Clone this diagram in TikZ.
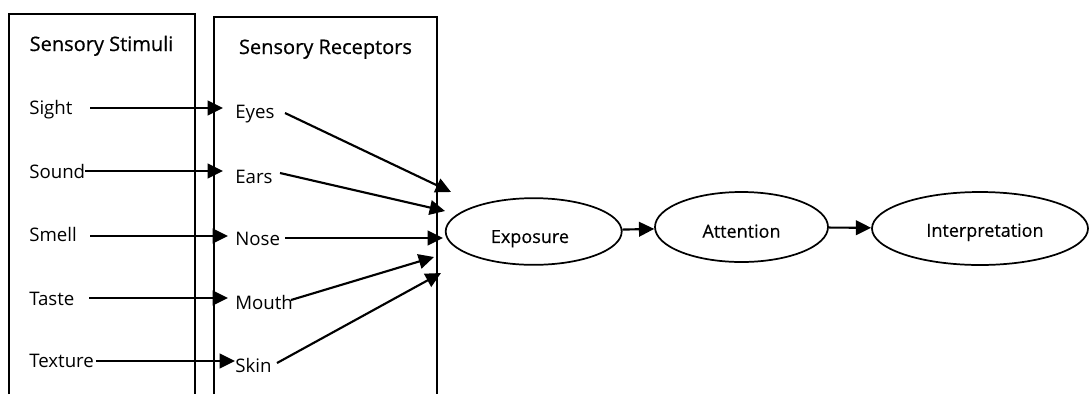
\documentclass[tikz,border=0pt]{standalone}
\usepackage{fontspec}
\setmainfont{Open Sans}
\usetikzlibrary{arrows.meta,shapes.geometric}
\begin{document}
\begin{tikzpicture}[x=0.75pt,y=-0.75pt,
  frame/.style={line width=1.1pt},
  item/.style={anchor=base west, inner sep=0pt, font=\fontsize{14}{16}\selectfont},
  head/.style={anchor=base, inner sep=0pt, font=\fontsize{15}{17}\selectfont\addfontfeature{FakeBold=0.6}},
  arr/.style={line width=1.6pt, -{Triangle[length=11.5pt,width=11pt]}},
  oval/.style={ellipse, draw, line width=1.3pt, inner sep=0pt,
    font=\fontsize{13.5}{16}\selectfont\addfontfeature{FakeBold=0.4}}]
\useasboundingbox (0,0) rectangle (1089,394);
% containers
\draw[frame] (9,394) -- (9,14) -- (195,14) -- (195,394);
\draw[frame] (214,394) -- (214,17) -- (437,17) -- (437,394);
\node[head] (hstim) at (101.5,51) {Sensory Stimuli};
\node[head] (hrec) at (325.5,54) {Sensory Receptors};
% stimuli
\node[item] (sight) at (29,114) {Sight};
\node[item] (sound) at (29,178) {Sound};
\node[item] (smell) at (29,241) {Smell};
\node[item] (taste) at (29,305) {Taste};
\node[item] (texture) at (29,367) {Texture};
% receptors
\node[item] (eyes) at (235,118) {Eyes};
\node[item] (ears) at (235,183) {Ears};
\node[item] (nose) at (235,245) {Nose};
\node[item] (mouth) at (235,309) {Mouth};
\node[item] (skin) at (235,372) {Skin};
% ovals
\node[oval, minimum width=132pt, minimum height=50pt] (exp) at (533.7,231.5) {\raisebox{-8.6pt}[0pt][0pt]{Exposure}\hspace*{5.6pt}};
\node[oval, minimum width=129.75pt, minimum height=52.5pt] (att) at (741.5,227) {\raisebox{-8pt}[0pt][0pt]{Attention}};
\node[oval, minimum width=162pt, minimum height=54.75pt] (int) at (980,228.5) {\hspace*{7.5pt}\raisebox{-6.2pt}[0pt][0pt]{Interpretation}};
% arrow end points
\coordinate (sight-o) at (90,108);   \coordinate (sight-i) at (223,108);
\coordinate (sound-o) at (85,171);   \coordinate (sound-i) at (223,171);
\coordinate (smell-o) at (90,236);   \coordinate (smell-i) at (228,236);
\coordinate (taste-o) at (89,298);   \coordinate (taste-i) at (228,298);
\coordinate (texture-o) at (96,361); \coordinate (texture-i) at (235,361);
\coordinate (eyes-o) at (285,113);   \coordinate (eyes-i) at (451,192);
\coordinate (ears-o) at (280,173);   \coordinate (ears-i) at (445,211);
\coordinate (nose-o) at (285,238);   \coordinate (nose-i) at (443,238);
\coordinate (mouth-o) at (291,300);  \coordinate (mouth-i) at (434,257);
\coordinate (skin-o) at (277,363);   \coordinate (skin-i) at (441,273);
% connectors
\foreach \n in {sight,sound,smell,taste,texture,eyes,ears,nose,mouth,skin}
  \draw[arr] (\n-o) -- (\n-i);
\draw[arr] (exp) -- (att);
\draw[arr] (att) -- (int);
\end{tikzpicture}
\end{document}
